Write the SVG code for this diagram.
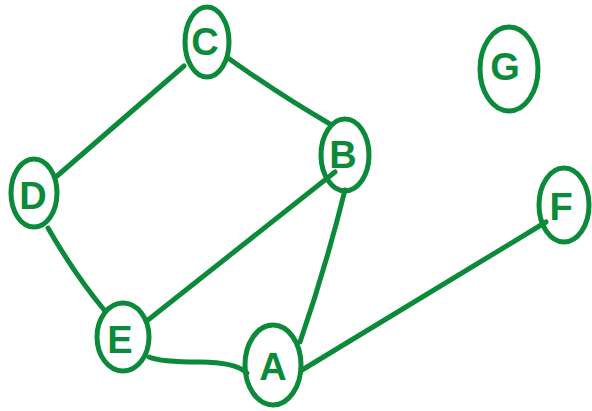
<svg xmlns="http://www.w3.org/2000/svg" width="592" height="411" viewBox="0 0 592 411">
<style>
.n ellipse{fill:none;stroke:#0b8a3a;stroke-width:5}
.e path{fill:none;stroke:#0b8a3a;stroke-width:5;stroke-linecap:round}
.n text{fill:#0b8a3a;font-family:"Liberation Sans",Arial,sans-serif;font-size:38px;font-weight:bold;text-anchor:middle;dominant-baseline:central}
</style>
<rect width="592" height="411" fill="#fff"/>
<g id="connectors" class="e">
<path d="M184,66 L57,176"/>
<path d="M228,58 Q280,95 330,124"/>
<path d="M335,172 L148,320"/>
<path d="M345,190 Q325,270 300,342"/>
<path d="M48,228 Q75,275 105,311"/>
<path d="M149,357 Q160,362 200,362 Q235,362 247,373"/>
<path d="M302,370 L546,222"/>
</g>
<g id="node-C" class="n"><ellipse cx="207" cy="42" rx="22" ry="35"/><text x="205" y="42">C</text></g>
<g id="node-B" class="n"><ellipse cx="345" cy="155" rx="24" ry="36"/><text x="343" y="155">B</text></g>
<g id="node-G" class="n"><ellipse cx="509" cy="69" rx="29" ry="42"/><text x="505" y="67">G</text></g>
<g id="node-D" class="n"><ellipse cx="34" cy="193" rx="23" ry="34"/><text x="33" y="196">D</text></g>
<g id="node-F" class="n"><ellipse cx="564" cy="205" rx="25" ry="37"/><text x="561" y="207">F</text></g>
<g id="node-E" class="n"><ellipse cx="123" cy="337" rx="26" ry="34"/><text x="120" y="340">E</text></g>
<g id="node-A" class="n"><ellipse cx="273" cy="365" rx="28" ry="40"/><text x="273" y="367">A</text></g>
</svg>
